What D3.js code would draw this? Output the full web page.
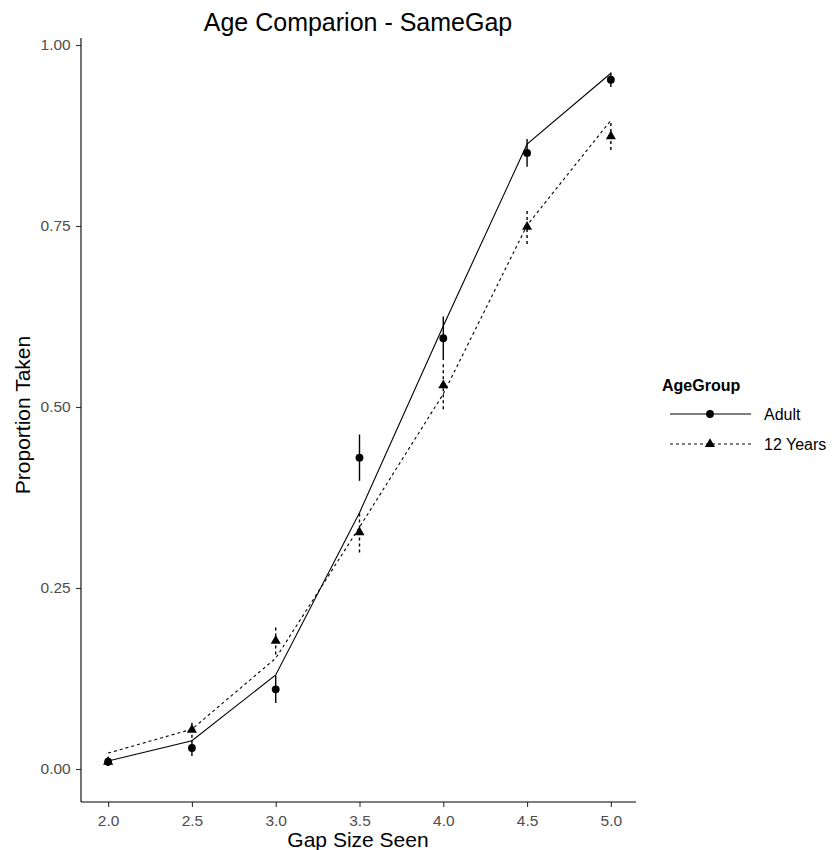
<!DOCTYPE html>
<html>
<head>
<meta charset="utf-8">
<script src="https://cdn.jsdelivr.net/npm/d3@7"></script>
<style>
  html, body { margin: 0; padding: 0; background: #fff; }
  svg { display: block; font-family: "Liberation Sans", Arial, sans-serif; }
</style>
</head>
<body>
<svg id="chart" width="832" height="850"></svg>
<script>
// ---- data ----
const gapSizes = [2.0, 2.5, 3.0, 3.5, 4.0, 4.5, 5.0];
const groups = ["Adult", "12 Years"];
const adultMean = [0.010, 0.029, 0.110, 0.430, 0.595, 0.851, 0.952];
const adultErr  = [0.006, 0.011, 0.019, 0.032, 0.030, 0.019, 0.010];
const adultFit  = [0.011, 0.039, 0.130, 0.354, 0.612, 0.863, 0.961];
const twelveMean = [0.010, 0.054, 0.177, 0.327, 0.530, 0.749, 0.874];
const twelveErr  = [0.006, 0.011, 0.019, 0.028, 0.033, 0.024, 0.019];
const twelveFit  = [0.022, 0.055, 0.153, 0.334, 0.518, 0.751, 0.896];
const xTicks = [2.0, 2.5, 3.0, 3.5, 4.0, 4.5, 5.0];
const yTicks = [0.00, 0.25, 0.50, 0.75, 1.00];
const titleText = "Age Comparion - SameGap";
const xTitle = "Gap Size Seen";
const yTitle = "Proportion Taken";
const legendTitle = "AgeGroup";

const series = [
  { name: groups[0], mean: adultMean, err: adultErr, fit: adultFit, dash: null, shape: d3.symbolCircle, size: 48 },
  { name: groups[1], mean: twelveMean, err: twelveErr, fit: twelveFit, dash: "3,3", shape: d3.symbolTriangle, size: 44 }
];

// ---- layout ----
const svg = d3.select("#chart");
const panel = { left: 81, right: 636, top: 38, bottom: 802 };

const x = d3.scaleLinear().domain([1.85, 5.15]).range([panel.left + 2, panel.right]);
const y = d3.scaleLinear().domain([0, 1]).range([769, 45]);

// axes
const xAxis = d3.axisBottom(x).tickValues(xTicks).tickFormat(d3.format(".1f")).tickSize(5).tickSizeOuter(0);
const yAxis = d3.axisLeft(y).tickValues(yTicks).tickFormat(d3.format(".2f")).tickSize(5).tickSizeOuter(0);

const gx = svg.append("g").attr("transform", `translate(0,${panel.bottom})`).call(xAxis);
const gy = svg.append("g").attr("transform", `translate(${panel.left},0)`).call(yAxis);

[gx, gy].forEach(g => {
  g.select(".domain").remove();
  g.selectAll(".tick line").attr("stroke", "#333").attr("stroke-width", 1.1);
  g.selectAll(".tick text").attr("fill", "#4d4d4d").style("font-size", "15.5px");
});
gx.selectAll(".tick text").attr("dy", "1.05em");
gy.selectAll(".tick text").attr("dx", "-0.15em");

svg.append("line").attr("x1", panel.left).attr("x2", panel.right)
  .attr("y1", panel.bottom).attr("y2", panel.bottom).attr("stroke", "#000").attr("stroke-width", 1.1);
svg.append("line").attr("x1", panel.left).attr("x2", panel.left)
  .attr("y1", panel.top).attr("y2", panel.bottom).attr("stroke", "#000").attr("stroke-width", 1.1);

// titles
svg.append("text").attr("x", 358).attr("y", 31).attr("text-anchor", "middle")
  .style("font-size", "25px").attr("fill", "#000").text(titleText);
svg.append("text").attr("x", 358).attr("y", 847).attr("text-anchor", "middle")
  .style("font-size", "21px").attr("fill", "#000").text(xTitle);
svg.append("text").attr("transform", "translate(30,415) rotate(-90)").attr("text-anchor", "middle")
  .style("font-size", "21px").attr("fill", "#000").text(yTitle);

// marks
const plot = svg.append("g");
const line = d3.line().x((d, i) => x(gapSizes[i])).y(d => y(d));

series.forEach(s => {
  const g = plot.append("g");
  g.append("path").datum(s.fit).attr("d", line)
    .attr("fill", "none").attr("stroke", "#000").attr("stroke-width", 1.1)
    .attr("stroke-dasharray", s.dash);
  g.selectAll("line.err").data(s.mean).enter().append("line")
    .attr("class", "err")
    .attr("x1", (d, i) => x(gapSizes[i])).attr("x2", (d, i) => x(gapSizes[i]))
    .attr("y1", (d, i) => y(d - s.err[i])).attr("y2", (d, i) => y(d + s.err[i]))
    .attr("stroke", "#000").attr("stroke-width", 1.4)
    .attr("stroke-dasharray", s.dash);
  g.selectAll("path.pt").data(s.mean).enter().append("path")
    .attr("class", "pt")
    .attr("transform", (d, i) => `translate(${x(gapSizes[i])},${y(d)})`)
    .attr("d", d3.symbol().type(s.shape).size(s.size))
    .attr("fill", "#000");
});

// legend
const lg = svg.append("g");
lg.append("text").attr("x", 662).attr("y", 391).style("font-size", "16px")
  .style("font-weight", "bold").attr("fill", "#000").text(legendTitle);
series.forEach((s, i) => {
  const cy = 414 + i * 30;
  lg.append("line").attr("x1", 670).attr("x2", 751).attr("y1", cy).attr("y2", cy)
    .attr("stroke", "#000").attr("stroke-width", 1.1).attr("stroke-dasharray", s.dash);
  lg.append("path").attr("transform", `translate(710,${cy})`)
    .attr("d", d3.symbol().type(s.shape).size(s.size)).attr("fill", "#000");
  lg.append("text").attr("x", 764).attr("y", cy + 6).style("font-size", "16px")
    .attr("fill", "#000").text(s.name);
});
</script>
</body>
</html>
